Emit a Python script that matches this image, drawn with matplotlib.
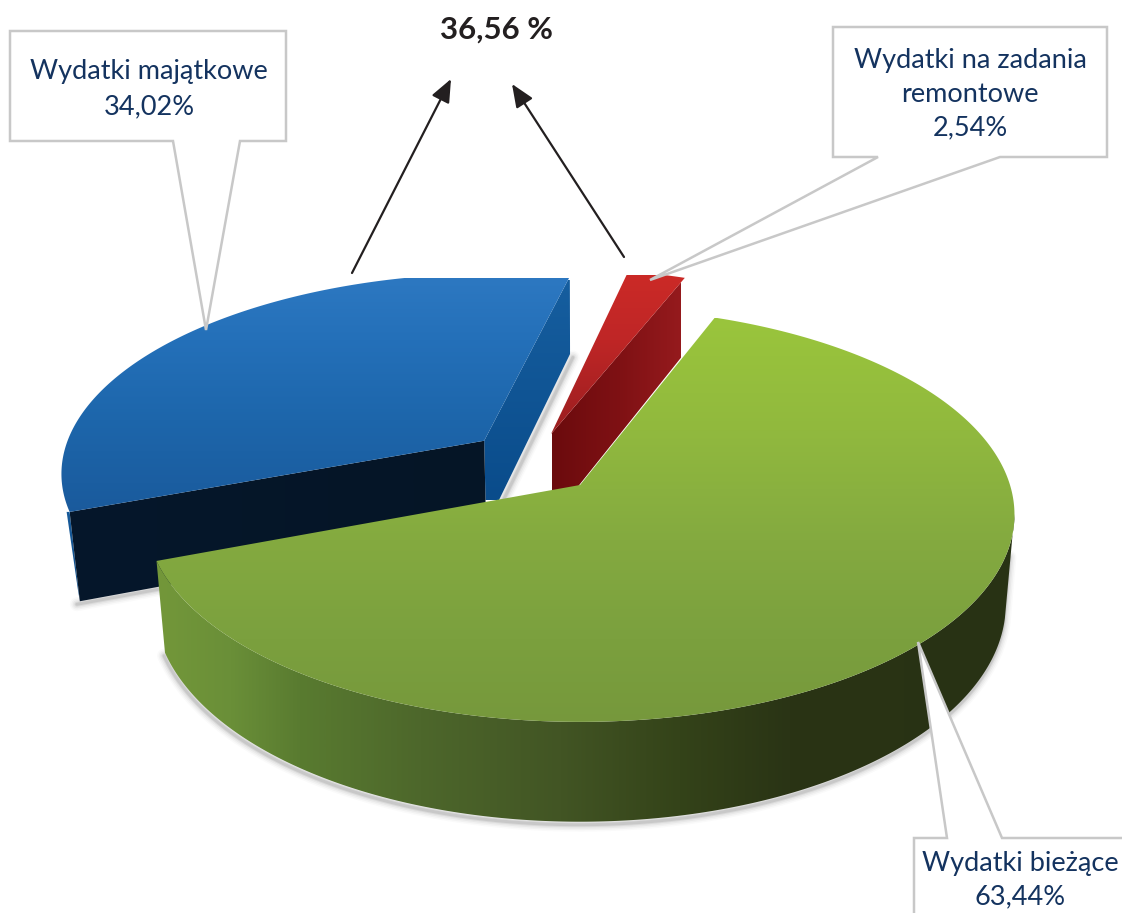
import numpy as np
import matplotlib
matplotlib.use("Agg")
import matplotlib.pyplot as plt
from matplotlib.colors import LinearSegmentedColormap
from matplotlib.patches import Polygon

# ---- data ----
categories = ["Wydatki majątkowe", "Wydatki na zadania\nremontowe", "Wydatki bieżące"]
values = [34.02, 2.54, 63.44]
value_labels = ["34,02%", "2,54%", "63,44%"]
total_label = "36,56 %"

# ---- projection / layout ----
START = 249.2
CX, CY = 580.0, 485.0
F, G, K = 430.0, 203.0, 0.143
SX, SY, DEPTH = 0.98, 1.05, 88.0
explode = [(-0.23, 0.225), (-0.07, 0.26), (0.0, 0.0)]
NAVY = "#14335f"
GREY = "#c8c8c8"

plt.rcParams["font.family"] = ["Lato", "DejaVu Sans"]
fig = plt.figure(figsize=(11.22, 9.13), dpi=100)
ax = fig.add_axes([0, 0, 1, 1])
ax.set_xlim(0, 1122)
ax.set_ylim(913, 0)
ax.axis("off")


def project(u, v, low=False):
    w = 1 + K * np.asarray(v)
    x0 = F * np.asarray(u) / w
    y0 = -G * np.asarray(v) / w
    if low:
        return CX + SX * x0, CY + SY * y0 + DEPTH
    return CX + x0, CY + y0


def rim(off, a0, a1, low=False, n=240):
    t = np.radians(np.linspace(a0, a1, n))
    return project(off[0] + np.sin(t), off[1] + np.cos(t), low)


def apex(off, low=False):
    return project(off[0], off[1], low)


def grad(pts, stops, axis="y", z=1):
    """Fill polygon pts with a linear gradient along an axis; stops = [(pos, colour)]."""
    pts = np.asarray(pts)
    lo, hi = stops[0][0], stops[-1][0]
    cmap = LinearSegmentedColormap.from_list(
        "g", [((p - lo) / (hi - lo), c) for p, c in stops])
    g = np.linspace(0, 1, 512)
    if axis == "y":
        arr, ext = g[:, None], (0, 1122, hi, lo)
    else:
        arr, ext = g[None, :], (lo, hi, 913, 0)
    patch = Polygon(pts, closed=True, transform=ax.transData, fc="none", ec="none")
    ax.add_patch(patch)
    im = ax.imshow(arr, cmap=cmap, extent=ext, aspect="auto", zorder=z,
                   interpolation="bilinear", vmin=0, vmax=1)
    im.set_clip_path(patch)
    return im


def stack(xy_top, xy_low_rev):
    return np.column_stack([np.r_[xy_top[0], xy_low_rev[0]], np.r_[xy_top[1], xy_low_rev[1]]])


def shadow(x, y, dx=-2, dy=3, z=0.5):
    for lw, a in zip((14, 11, 8, 5, 3), (0.02, 0.03, 0.04, 0.06, 0.08)):
        ax.plot(np.asarray(x) + dx, np.asarray(y) + dy, color="black", lw=lw * 0.72, alpha=a,
                zorder=z, solid_capstyle="round")


# slice angles computed from the values
angles = np.array(values) / sum(values) * 360
blue0 = START
blue1 = blue0 + angles[0]
red0 = blue1
red1 = red0 + angles[1]
green0 = red1
green1 = green0 + angles[2]

# ---- blue slice ----
off = explode[0]
tx, ty = rim(off, blue0, blue1)
lx, ly = rim(off, blue0, blue1, low=True)
ax0, ay0 = apex(off)
ax1, ay1 = apex(off, low=True)

shadow([lx[0], ax1], [ly[0], ay1], dx=-3, dy=3)
shadow([tx[-1], tx[-1], ax1], [ty[-1] + 78, ty[-1] + 78, ay1], dx=3, dy=3, z=0.5)

# outer wall: only a thin straight sliver shows beside the dark cut face
i_left = int(np.argmin(tx))
sliver = [(tx[0] - 3, ty[0]), (tx[0], ty[0]), (lx[0], ly[0]), (lx[0] - 2, ly[0] - 12)]
grad(sliver, [(480, "#1a5f9f"), (600, "#114f8c")], z=1)
face_r = [(ax0, ay0), (tx[-1], ty[-1]), (lx[-1], ly[-1]), (ax1, ay1)]
grad(face_r, [(280, "#165e9f"), (500, "#0a4c8b")], z=2)
face_d = [(tx[0], ty[0]), (ax0, ay0), (ax1, ay1), (lx[0], ly[0])]
grad(face_d, [(70, "#05172b"), (500, "#061526")], axis="x", z=3)
top = np.column_stack([np.r_[ax0, tx], np.r_[ay0, ty]])
grad(top, [(278, "#2d78c1"), (340, "#2470b9"), (420, "#1d66ab"), (515, "#1a5a9c")], z=4)

# ---- red slice ----
off = explode[1]
tx, ty = rim(off, red0, red1, n=30)
lx, ly = rim(off, red0, red1, low=True, n=30)
ax0, ay0 = apex(off)
ax1, ay1 = apex(off, low=True)
face = [(ax0, ay0), (tx[-1], ty[-1]), (lx[-1], ly[-1]), (ax1, ay1)]
grad(face, [(552, "#6b0b0d"), (620, "#7f1114"), (681, "#951a1d")], axis="x", z=5)
top = np.column_stack([np.r_[ax0, tx], np.r_[ay0, ty]])
grad(top, [(275, "#cb2a27"), (340, "#bf2626"), (435, "#9a1e20")], z=6)

# ---- green slice ----
off = explode[2]
tx, ty = rim(off, green0, green1, n=480)
lx, ly = rim(off, green0, green1, low=True, n=480)
ax0, ay0 = apex(off)
i_t = int(np.argmax(tx))
i_l = int(np.argmax(lx)) + 8
shadow(np.r_[tx[i_t] - 4, lx[i_l:]], np.r_[ty[i_t] + 40, ly[i_l:]], dx=-1, dy=3, z=4.5)
wall = stack((tx[i_t:], ty[i_t:]), (lx[i_l:][::-1], ly[i_l:][::-1]))
grad(wall, [(150, "#74983a"), (230, "#6a8f38"), (300, "#597b30"), (420, "#4d672b"),
            (560, "#425524"), (680, "#344319"), (790, "#2a3415"), (1020, "#283214")],
     axis="x", z=7)
top = np.column_stack([np.r_[ax0, tx], np.r_[ay0, ty]])
grad(top, [(318, "#9ac53c"), (430, "#91b93e"), (540, "#84aa40"), (640, "#7ba03e"), (725, "#76983c")],
     z=8)


# ---- callouts ----
def callout(pts, z=10):
    ax.add_patch(Polygon(pts, closed=True, fc="white", ec=GREY, lw=1.8, zorder=z,
                         joinstyle="miter"))


callout([(10, 31), (286, 31), (286, 141), (240, 141), (206, 330), (173, 141), (10, 141)])
callout([(833, 27), (1107, 27), (1107, 157), (1000, 157), (650, 280), (878, 157), (833, 157)])
callout([(914, 838), (947, 838), (918, 642), (1002, 838), (1135, 838), (1135, 930), (914, 930)])

ax.text(149, 89, f"{categories[0]}\n{value_labels[0]}", ha="center", va="center",
        color=NAVY, fontsize=19.5, linespacing=1.5, zorder=11)
ax.text(970, 94.5, f"{categories[1]}\n{value_labels[1]}", ha="center", va="center",
        color=NAVY, fontsize=19.5, linespacing=1.44, zorder=11)
ax.text(1020, 880, f"{categories[2]}\n{value_labels[2]}", ha="center", va="center",
        color=NAVY, fontsize=19.5, linespacing=1.42, zorder=11)

ax.text(497, 30, total_label, ha="center", va="center", color="#231f20",
        fontsize=22.5, fontweight="bold", zorder=11)

for start, end in [((352, 273), (451, 79)), ((624, 257), (512, 84))]:
    ax.annotate("", xy=end, xytext=start, zorder=11,
                arrowprops=dict(arrowstyle="-|>,head_length=1.0,head_width=0.42", color="#231f20",
                                lw=1.6, shrinkA=0, shrinkB=0, mutation_scale=14))

ax.set_xlim(0, 1122)
ax.set_ylim(913, 0)
fig.savefig("out.png", dpi=100, facecolor="white")
